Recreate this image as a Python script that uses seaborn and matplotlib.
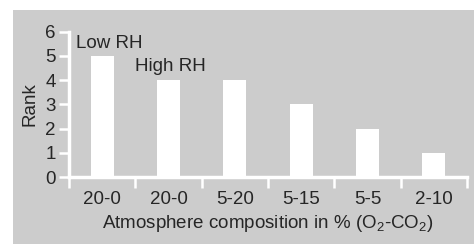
import matplotlib
matplotlib.use("Agg")
from matplotlib import pyplot as plt
from matplotlib.patches import Rectangle
import seaborn as sns

# data
conditions = ["20-0", "20-0", "5-20", "5-15", "5-5", "2-10"]
ranks = [5, 4, 4, 3, 2, 1]
notes = ["Low RH", "High RH"]

sns.set_style("white")
plt.rcParams['font.family'] = ['Liberation Sans', 'DejaVu Sans']
plt.rcParams['mathtext.fontset'] = 'custom'
plt.rcParams['mathtext.rm'] = 'Liberation Sans'
plt.rcParams['mathtext.default'] = 'regular'

gray = '#cccccc'
fs = 13.5
my_dpi = 100
fig = plt.figure(figsize=(474 / my_dpi, 244 / my_dpi), dpi=my_dpi)
fig.patch.set_facecolor('white')
fig.patches.append(Rectangle((13 / 474, 0), 1, 234 / 244, transform=fig.transFigure,
                             facecolor=gray, edgecolor='none', zorder=-10))

ax = fig.add_axes([69 / 474, 67 / 244, 398 / 474, 145.3 / 244])
ax.set_facecolor('none')

sns.barplot(x=list(range(len(ranks))), y=ranks, color='white', width=0.35,
            saturation=1, ax=ax, zorder=3)
for p in ax.patches:
    p.set_edgecolor('none')

ax.set_xlim(-0.5, 5.5)
ax.set_ylim(0, 6)

for side in ['top', 'right']:
    ax.spines[side].set_visible(False)
for side in ['left', 'bottom']:
    ax.spines[side].set_color('white')
    ax.spines[side].set_linewidth(2.5)
    ax.spines[side].set_capstyle('projecting')

ax.set_yticks(range(7))
ax.tick_params(axis='y', direction='out', length=7.5, width=1.8, color='white',
               pad=2, labelsize=fs, left=True)
ax.set_xticks(range(len(conditions)), conditions)
ax.tick_params(axis='x', which='major', length=0, pad=10, labelsize=fs)
ax.set_xticks([i - 0.5 for i in range(len(conditions) + 1)], minor=True)
ax.tick_params(axis='x', which='minor', direction='out', length=8, width=1.8,
               color='white', bottom=True)

ax.set_ylabel("Rank", fontsize=fs, labelpad=5)
ax.set_xlabel("Atmosphere composition in % (O$_2$-CO$_2$)", fontsize=fs, labelpad=4)

ax.text(-0.40, 5.34, notes[0], fontsize=fs, ha='left', va='baseline', zorder=4)
ax.text(0.50, 4.37, notes[1], fontsize=fs, ha='left', va='baseline', zorder=4)

plt.savefig('out.png', dpi=my_dpi)
